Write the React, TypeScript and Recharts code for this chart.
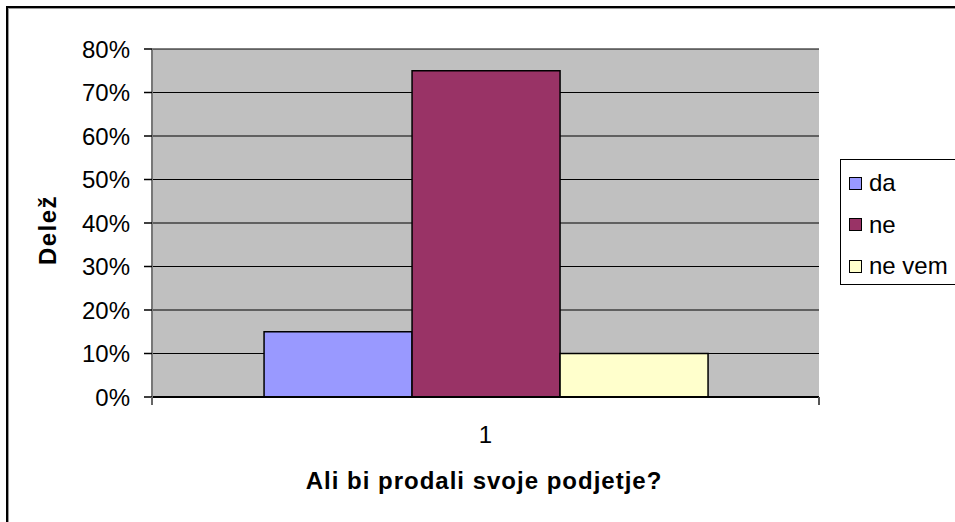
import React from "react";
import { BarChart, Bar, XAxis, YAxis, CartesianGrid } from "recharts";

const categories = ["1"];
const seriesNames = ["da", "ne", "ne vem"];
const seriesKeys = ["da", "ne", "nevem"];
const seriesColors = ["#9999FF", "#993366", "#FFFFCC"];
const daValues = [0.15];
const neValues = [0.75];
const neVemValues = [0.1];
const yTicks = [0, 0.1, 0.2, 0.3, 0.4, 0.5, 0.6, 0.7, 0.8];
const xTitle = "Ali bi prodali svoje podjetje?";
const yTitle = "Delež";

const data = categories.map((c, i) => ({
  cat: c,
  da: daValues[i],
  ne: neValues[i],
  nevem: neVemValues[i],
}));

const FONT = "Arial, 'Liberation Sans', sans-serif";

const XTick = (props: any) => {
  const { x, y, payload } = props;
  const off = payload.offset || 0;
  return (
    <g>
      <line x1={x - off} x2={x - off} y1={y} y2={y + 8} stroke="#666" strokeWidth={2} />
      <line x1={x + off} x2={x + off} y1={y} y2={y + 8} stroke="#555" strokeWidth={2} />
      <text x={x} y={y + 37} textAnchor="middle" dominantBaseline="central" fontSize={24} fontFamily={FONT} fill="#000">
        {payload.value}
      </text>
    </g>
  );
};

export default function App() {
  return (
    <div style={{ position: "absolute", left: 0, top: 0, width: 955, height: 522, overflow: "hidden", background: "#fff" }}>
      <div style={{ position: "absolute", left: 6, top: 6, width: 1000, height: 600, borderTop: "2px solid #000", borderLeft: "2px solid #000", boxShadow: "inset 1px 1px 0 #999" }} />
      <div style={{ position: "absolute", left: 0, top: 0 }}>
        <BarChart width={955} height={522} data={data} margin={{ top: 49, right: 136, left: 0, bottom: 0 }} barCategoryGap="16.8%" barGap={0}>
          <CartesianGrid vertical={false} stroke="#000" strokeWidth={1.2} fill="#C0C0C0" fillOpacity={1} />
          <XAxis dataKey="cat" height={125} tickSize={0} tickMargin={0} tickLine={false} axisLine={{ stroke: "#000", strokeWidth: 2 }} tick={<XTick />} interval={0} />
          <XAxis xAxisId="top" dataKey="cat" orientation="top" height={0} tick={false} tickLine={false} axisLine={{ stroke: "#8a8a8a", strokeWidth: 2 }} />
          <YAxis
            width={152}
            domain={[0, 0.8]}
            ticks={yTicks}
            interval={0}
            tickFormatter={(v: number) => `${Math.round(v * 100)}%`}
            tickSize={8}
            tickMargin={14}
            tickLine={{ stroke: "#000", strokeWidth: 1.5 }}
            axisLine={{ stroke: "#777", strokeWidth: 2 }}
            tick={{ fontSize: 24, fontFamily: FONT, fill: "#000" }}
          />
          <YAxis yAxisId="right" orientation="right" width={0} domain={[0, 0.8]} tick={false} tickLine={false} axisLine={{ stroke: "#8a8a8a", strokeWidth: 2 }} />
          {seriesKeys.map((k, i) => (
            <Bar key={k} dataKey={k} name={seriesNames[i]} fill={seriesColors[i]} stroke="#000" strokeWidth={1.5} isAnimationActive={false} />
          ))}
        </BarChart>
      </div>
      <svg width={955} height={522} style={{ position: "absolute", left: 0, top: 0, pointerEvents: "none" }}>
        <text x={484} y={480} textAnchor="middle" dominantBaseline="central" fontSize={24} fontWeight="bold" fontFamily={FONT} letterSpacing={1} fill="#000">
          {xTitle}
        </text>
        <text x={47} y={230} textAnchor="middle" dominantBaseline="central" fontSize={24} fontWeight="bold" fontFamily={FONT} letterSpacing={1.5} fill="#000" transform="rotate(-90 47 230)">
          {yTitle}
        </text>
      </svg>
      <div style={{ position: "absolute", left: 840, top: 159, width: 200, height: 126, border: "1.5px solid #000", background: "#fff", boxSizing: "border-box" }}>
        {seriesNames.map((n, i) => (
          <div key={n} style={{ position: "absolute", left: 8, top: 9 + i * 41.5, height: 28, display: "flex", alignItems: "center", fontFamily: FONT, fontSize: 24, color: "#000" }}>
            <span style={{ display: "inline-block", width: 11, height: 11, background: seriesColors[i], border: "1.5px solid #000", marginRight: 7 }} />
            <span>{n}</span>
          </div>
        ))}
      </div>
    </div>
  );
}
